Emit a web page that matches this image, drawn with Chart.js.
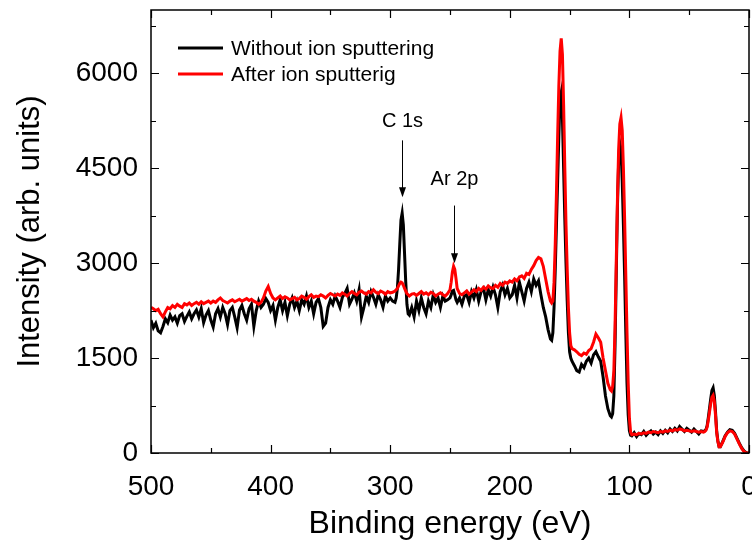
<!DOCTYPE html>
<html>
<head>
<meta charset="utf-8">
<script src="https://cdn.jsdelivr.net/npm/chart.js@4.4.0/dist/chart.umd.min.js"></script>
<style>
  html, body { margin: 0; padding: 0; background: #fff; }
  #wrap { width: 752px; height: 544px; }
</style>
</head>
<body>
<div id="wrap"><canvas id="xps" width="752" height="544"></canvas></div>
<script>
// Binding energy (eV), high to low
const energies = [
  500,498,496,494,492,490,488,486,484,482,
  480,478,476,474,472,470,468,466,464,462,
  460,458,456,454,452,450,448,446,444,442,
  440,438,436,434,432,430,428,426,424,422,
  420,418,416,414,412,410,408,406,404,402,
  400,398,396,394,392,390,388,386,384,382,
  380,378,376,374,372,370,368,366,364,362,
  360,358,356,354,352,350,348,346,344,342,
  340,338,336,334,332,330,328,326,324,322,
  320,318,316,314,312,310,308,306,304,302,
  300,
  298,296,295,294,293,292,291,290,289,288,
  287,286,285,284,282,280,278,276,274,272,
  270,268,266,264,262,260,258,256,254,252,
  250,249,248,247,246,245,244,242,240,238,
  236,234,232,230,228,226,224,222,220,218,
  216,214,212,210,208,206,204,202,200,
  198,196,194,192,190,188,186,184,182,180,
  178,176,174,172,170,168,166,165,164,163,
  162,161,160,159,158,157,156,155,154,153,
  152,151,150,149,148,
  146,144,142,140,138,136,134,132,130,128,
  126,124,122,120,118,116,115,114,113,112,
  111,110,109,108,107,106,105,104,103,102,
  101,100,99,
  98,96,94,92,90,88,86,84,82,80,
  78,76,74,72,70,68,66,64,62,60,
  58,56,54,52,50,48,46,44,42,40,
  38,37,36,35,34,33,32,31,30,29,
  28,27,26,25,24,22,20,18,16,14,
  12,10,8,6,4,2,0
];

// Without ion sputtering
const withoutSputter = [
  2100,1980,2050,1930,1900,2000,2120,2060,2180,2100,
  2150,2050,2170,2200,2080,2160,2230,2120,2200,2260,
  2150,2280,2060,2180,2250,2100,1990,2200,2280,2150,
  2300,2200,2030,2250,2300,2150,1980,2260,2330,2200,
  2100,2280,2350,2000,2250,2400,2300,2350,2440,2380,
  2250,2330,2100,2300,2420,2250,2380,2170,2350,2450,
  2300,2400,2250,2420,2350,2480,2300,2400,2200,2380,
  2440,2300,2000,2050,2300,2420,2350,2480,2400,2300,
  2460,2520,2600,2350,2430,2530,2400,2580,2150,2300,
  2480,2380,2550,2460,2350,2500,2420,2300,2480,2400,
  2450,
  2400,2380,2450,2600,2900,3300,3680,3790,3600,3150,
  2700,2350,2200,2180,2300,2150,2400,2250,2450,2300,
  2200,2400,2300,2500,2380,2450,2300,2480,2400,2420,
  2450,2500,2560,2570,2500,2420,2380,2450,2350,2480,
  2500,2380,2550,2450,2580,2400,2550,2600,2420,2580,
  2480,2620,2500,2300,2550,2650,2500,2600,2450,
  2500,2650,2450,2700,2550,2400,2600,2700,2550,2750,
  2650,2720,2500,2300,2150,1950,1800,1780,1900,2300,
  2900,3600,4300,5000,5600,5700,5300,4500,3700,3000,
  2400,1900,1600,1500,1450,
  1380,1300,1280,1400,1350,1450,1500,1420,1550,1600,
  1520,1450,1200,900,700,590,570,620,900,1700,
  2800,3900,4600,4900,4800,4300,3600,2800,1900,1100,
  600,350,280,
  270,320,260,310,290,340,280,320,350,300,
  330,290,350,310,360,320,380,340,390,350,
  420,380,340,390,360,330,380,340,300,350,
  340,350,370,430,560,710,860,990,1030,910,
  650,340,190,100,100,180,270,330,370,360,
  310,230,150,80,30,0,0
];

// After ion sputtering
const afterSputter = [
  2300,2280,2250,2270,2200,2150,2230,2300,2280,2330,
  2300,2350,2320,2300,2360,2340,2370,2330,2360,2380,
  2350,2390,2360,2380,2400,2370,2400,2380,2420,2450,
  2410,2390,2370,2400,2420,2390,2410,2430,2400,2420,
  2440,2410,2430,2400,2380,2350,2380,2450,2560,2630,
  2520,2450,2420,2450,2480,2440,2470,2450,2420,2440,
  2460,2420,2440,2480,2460,2430,2470,2500,2460,2480,
  2470,2500,2480,2450,2490,2520,2500,2480,2510,2490,
  2530,2510,2480,2520,2550,2520,2500,2540,2560,2530,
  2510,2550,2530,2580,2540,2520,2560,2540,2510,2550,
  2530,
  2540,2560,2580,2600,2640,2680,2700,2690,2650,2600,
  2560,2520,2500,2480,2510,2520,2490,2520,2550,2510,
  2530,2500,2540,2520,2480,2510,2530,2500,2480,2520,
  2580,2700,2860,2950,2900,2760,2600,2520,2500,2530,
  2560,2510,2540,2580,2550,2600,2570,2620,2590,2640,
  2610,2600,2650,2620,2680,2650,2700,2680,2720,
  2700,2750,2720,2780,2800,2760,2840,2820,2900,2960,
  3040,3090,3070,2950,2750,2550,2400,2370,2400,2700,
  3300,4100,5000,5800,6350,6550,6300,5500,4500,3600,
  2900,2300,1900,1700,1650,
  1630,1600,1560,1540,1580,1560,1620,1650,1750,1880,
  1820,1750,1500,1300,1100,1000,980,1050,1300,2000,
  3000,4000,4800,5200,5300,5100,4500,3700,2800,1900,
  1100,550,330,
  290,300,290,310,300,320,310,330,320,340,
  330,320,340,330,350,340,360,350,370,360,
  380,370,350,360,350,340,350,340,330,340,
  330,340,360,410,520,650,780,880,910,820,
  600,320,180,100,100,170,260,320,350,340,
  300,220,140,70,20,0,0
];

const seriesNames = ['Without ion sputtering', 'After ion sputterig'];
const seriesColors = ['#000000', '#ff0000'];

const xMajorTicks = [500, 400, 300, 200, 100, 0];
const xMinorTicks = [450, 350, 250, 150, 50];
const yMajorTicks = [0, 1500, 3000, 4500, 6000];
const yMinorTicks = [750, 2250, 3750, 5250, 6750];

// peak labels: [text, energy, label y, arrow start y, arrow tip y]
const peakNotes = [
  ['C 1s', 290, 5240, 4940, 4040],
  ['Ar 2p', 247, 4320, 3910, 3000]
];

const FONT = 'Arial, "Liberation Sans", sans-serif';

function toPoints(ys){
  return energies.map((e, i) => ({x: e, y: ys[i]}));
}

// frame, inward ticks, legend and arrows
const decorPlugin = {
  id: 'decor',
  afterDatasetsDraw(chart){
    const {ctx, chartArea: a, scales: {x, y}} = chart;
    ctx.save();
    ctx.strokeStyle = '#000';
    ctx.lineWidth = 1.5;
    ctx.strokeRect(a.left, a.top, a.right - a.left, a.bottom - a.top);

    ctx.lineWidth = 1.2;
    ctx.beginPath();
    const xt = (v, len) => {
      const px = Math.round(x.getPixelForValue(v)) + 0.5;
      ctx.moveTo(px, a.bottom); ctx.lineTo(px, a.bottom - len);
      ctx.moveTo(px, a.top); ctx.lineTo(px, a.top + len);
    };
    const yt = (v, len) => {
      const py = Math.round(y.getPixelForValue(v)) + 0.5;
      ctx.moveTo(a.left, py); ctx.lineTo(a.left + len, py);
      ctx.moveTo(a.right, py); ctx.lineTo(a.right - len, py);
    };
    xMajorTicks.forEach(v => xt(v, 8));
    xMinorTicks.forEach(v => xt(v, 5));
    yMajorTicks.forEach(v => yt(v, 8));
    yMinorTicks.forEach(v => yt(v, 5));
    ctx.stroke();

    // legend
    ctx.font = '21px ' + FONT;
    ctx.textBaseline = 'middle';
    ctx.textAlign = 'left';
    seriesNames.forEach((name, i) => {
      const ly = 48 + i * 26;
      ctx.strokeStyle = seriesColors[i];
      ctx.lineWidth = 3;
      ctx.beginPath();
      ctx.moveTo(178, ly); ctx.lineTo(223, ly);
      ctx.stroke();
      ctx.fillStyle = '#000';
      ctx.fillText(name, 231, ly + 1);
    });

    // peak arrows
    ctx.font = '20px ' + FONT;
    ctx.textAlign = 'center';
    peakNotes.forEach(([txt, e, ty, y0, y1]) => {
      const px = Math.round(x.getPixelForValue(e)) + 0.5;
      ctx.fillStyle = '#000';
      ctx.fillText(txt, px, y.getPixelForValue(ty));
      const top = y.getPixelForValue(y0), tip = y.getPixelForValue(y1);
      ctx.strokeStyle = '#000';
      ctx.lineWidth = 1;
      ctx.beginPath();
      ctx.moveTo(px, top); ctx.lineTo(px, tip - 8);
      ctx.stroke();
      ctx.beginPath();
      ctx.moveTo(px - 3.5, tip - 10);
      ctx.lineTo(px + 3.5, tip - 10);
      ctx.lineTo(px, tip);
      ctx.closePath();
      ctx.fill();
    });
    ctx.restore();
  }
};

const ctx = document.getElementById('xps').getContext('2d');
new Chart(ctx, {
  type: 'line',
  data: {
    datasets: [
      {
        label: seriesNames[0],
        data: toPoints(withoutSputter),
        borderColor: seriesColors[0],
        borderWidth: 3,
        pointRadius: 0,
        tension: 0,
        order: 2
      },
      {
        label: seriesNames[1],
        data: toPoints(afterSputter),
        borderColor: seriesColors[1],
        borderWidth: 3,
        pointRadius: 0,
        tension: 0,
        order: 1
      }
    ]
  },
  options: {
    responsive: false,
    animation: false,
    devicePixelRatio: 1,
    layout: { padding: { left: 0, right: 3, top: 10, bottom: 0 } },
    plugins: { legend: { display: false }, tooltip: { enabled: false } },
    scales: {
      x: {
        type: 'linear',
        reverse: true,
        min: 0,
        max: 500,
        grid: { display: false, drawTicks: false },
        border: { display: false },
        afterBuildTicks: s => { s.ticks = xMajorTicks.map(v => ({value: v})); },
        afterFit: s => { s.height = 91; s.paddingLeft = 0; s.paddingRight = 0; },
        ticks: { color: '#000', padding: 17, maxRotation: 0, font: { family: FONT, size: 28 }, callback: v => String(v) },
        title: {
          display: true,
          text: 'Binding energy (eV)',
          color: '#000',
          font: { family: FONT, size: 32 },
          padding: { top: 0, bottom: 1 }
        }
      },
      y: {
        min: 0,
        max: 7000,
        grid: { display: false, drawTicks: false },
        border: { display: false },
        afterBuildTicks: s => { s.ticks = yMajorTicks.map(v => ({value: v})); },
        afterFit: s => { s.width = 151; s.paddingTop = 0; s.paddingBottom = 0; },
        ticks: { color: '#000', padding: 13, font: { family: FONT, size: 28 }, callback: v => String(v) },
        title: {
          display: true,
          text: 'Intensity (arb. units)',
          color: '#000',
          font: { family: FONT, size: 31 },
          padding: { top: 12, bottom: 0 }
        }
      }
    }
  },
  plugins: [decorPlugin]
});
</script>
</body>
</html>
